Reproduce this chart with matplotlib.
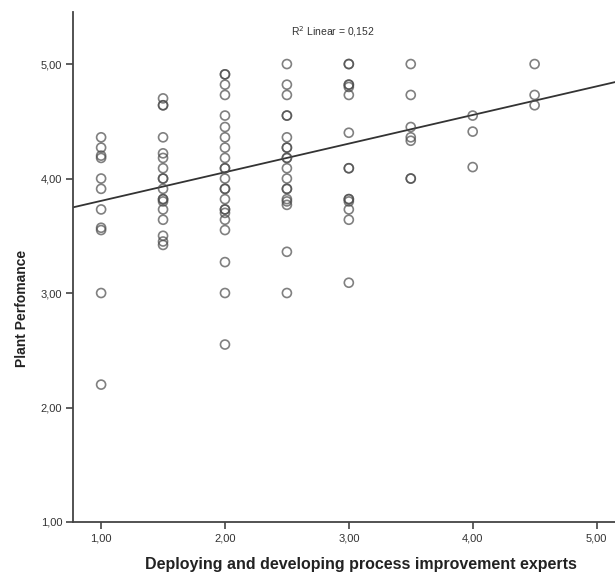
import matplotlib
matplotlib.use("Agg")
import matplotlib.pyplot as plt
from matplotlib.ticker import FuncFormatter

plt.rcParams["font.family"] = ["Liberation Sans", "DejaVu Sans"]

# Data (x = predictor level, y = plant performance)
col_100 = [4.36, 4.27, 4.18, 4.20, 4.00, 3.91, 3.73, 3.57, 3.55, 3.00, 2.20]
col_150 = [4.70, 4.64, 4.64, 4.36, 4.22, 4.18, 4.09, 4.00, 4.00, 3.91, 3.82,
           3.82, 3.80, 3.73, 3.64, 3.50, 3.45, 3.42]
col_200 = [4.91, 4.91, 4.82, 4.73, 4.55, 4.45, 4.36, 4.27, 4.18, 4.09, 4.09,
           4.00, 3.91, 3.91, 3.82, 3.73, 3.73, 3.70, 3.64, 3.55, 3.27, 3.00, 2.55]
col_250 = [5.00, 4.82, 4.73, 4.55, 4.55, 4.36, 4.27, 4.27, 4.18, 4.18, 4.09,
           4.00, 3.91, 3.91, 3.82, 3.80, 3.77, 3.36, 3.00]
col_300 = [5.00, 5.00, 4.82, 4.82, 4.80, 4.73, 4.40, 4.09, 4.09, 3.82, 3.82,
           3.80, 3.73, 3.64, 3.09]
col_350 = [5.00, 4.73, 4.45, 4.36, 4.33, 4.00, 4.00]
col_400 = [4.55, 4.41, 4.10]
col_450 = [5.00, 4.73, 4.64]

x_levels = [1.0, 1.5, 2.0, 2.5, 3.0, 3.5, 4.0, 4.5]
columns = [col_100, col_150, col_200, col_250, col_300, col_350, col_400, col_450]

fit_intercept = 3.555
fit_slope = 0.25
r2_text = "R$^2$ Linear = 0,152"

x_ticks = [1.0, 2.0, 3.0, 4.0, 5.0]
y_ticks = [1.0, 2.0, 3.0, 4.0, 5.0]
x_label = "Deploying and developing process improvement experts"
y_label = "Plant Perfomance"

fig = plt.figure(figsize=(6.15, 5.75), dpi=100)
ax = fig.add_axes([0.1195, 0.0922, 0.8805, 0.887])

xs, ys = [], []
for xv, col in zip(x_levels, columns):
    xs.extend([xv] * len(col))
    ys.extend(col)

ax.scatter(xs, ys, s=42, facecolors="none", edgecolors="#4a4a4a",
           linewidths=1.2, alpha=0.7, zorder=3)

xmin, xmax = 0.777, 5.149
ax.plot([xmin, xmax], [fit_intercept + fit_slope * xmin, fit_intercept + fit_slope * xmax],
        color="#333333", lw=1.3, zorder=2)

ax.set_xlim(xmin, xmax)
ax.set_ylim(1.0, 5.455)
ax.set_xticks(x_ticks)
ax.set_yticks(y_ticks)
fmt = FuncFormatter(lambda v, p: f"{v:.2f}".replace(".", ","))
ax.xaxis.set_major_formatter(fmt)
ax.yaxis.set_major_formatter(fmt)
ax.tick_params(axis="both", direction="out", length=5, width=1.2, color="#444444",
               labelsize=8, labelcolor="#333333", pad=3)

for s in ["top", "right"]:
    ax.spines[s].set_visible(False)
for s in ["left", "bottom"]:
    ax.spines[s].set_color("#444444")
    ax.spines[s].set_linewidth(1.3)

ax.set_xlabel(x_label, fontsize=11.5, fontweight="bold", color="#222222")
ax.set_ylabel(y_label, fontsize=10, fontweight="bold", color="#222222")
ax.xaxis.set_label_coords(0.531, -0.068)
ax.yaxis.set_label_coords(-0.083, 0.418)

ax.text(2.87, 5.28, r2_text, fontsize=7.5, color="#333333", ha="center", va="center")

fig.savefig("out.png", dpi=100)
